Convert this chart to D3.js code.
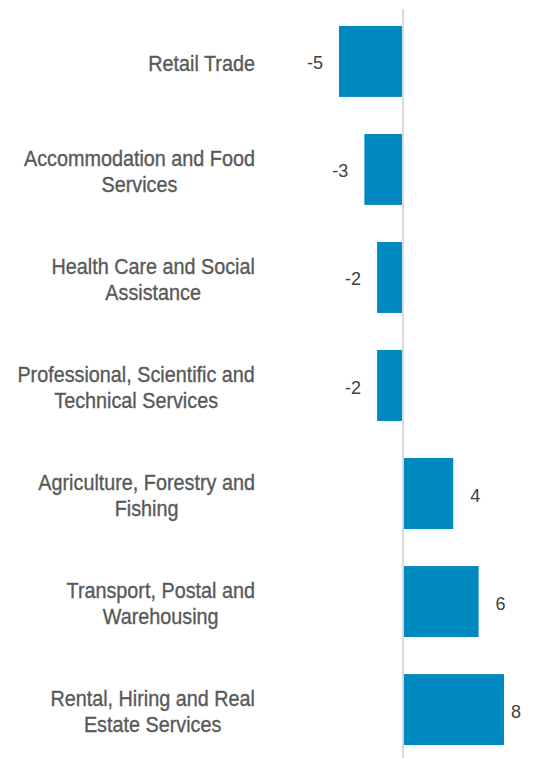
<!DOCTYPE html>
<html>
<head>
<meta charset="utf-8">
<script src="https://cdn.jsdelivr.net/npm/d3@7"></script>
<style>
  html, body { margin: 0; padding: 0; background: #fff; }
  svg { display: block; }
</style>
</head>
<body>
<svg id="chart" width="533" height="758"></svg>
<script>
// Change by industry (top to bottom)
const categories = [
  ["Retail Trade"],
  ["Accommodation and Food", "Services"],
  ["Health Care and Social", "Assistance"],
  ["Professional, Scientific and", "Technical Services"],
  ["Agriculture, Forestry and", "Fishing"],
  ["Transport, Postal and", "Warehousing"],
  ["Rental, Hiring and Real", "Estate Services"]
];
const values = [-5, -3, -2, -2, 4, 6, 8];
const valueLabels = ["-5", "-3", "-2", "-2", "4", "6", "8"];

const W = 533, H = 758;
const svg = d3.select("#chart");

const rows = categories.map((c, i) => ({ key: i, lines: c, value: values[i], label: valueLabels[i] }));

const y = d3.scaleBand()
  .domain(rows.map(d => d.key))
  .range([9, 762])
  .paddingInner(0.343)
  .paddingOuter(0.157);

const x = d3.scaleLinear().domain([-5, 8]).range([339, 504]);

// bars
svg.append("g").selectAll("rect")
  .data(rows)
  .join("rect")
  .attr("x", d => x(Math.min(0, d.value)))
  .attr("y", d => y(d.key))
  .attr("width", d => Math.abs(x(d.value) - x(0)))
  .attr("height", y.bandwidth())
  .attr("fill", "#0089C0");

// zero axis line
svg.append("line")
  .attr("x1", x(0) + 0.5).attr("x2", x(0) + 0.5)
  .attr("y1", 9).attr("y2", H)
  .attr("stroke", "#d9d9d9").attr("stroke-width", 2);

// value labels
svg.append("g").selectAll("text")
  .data(rows)
  .join("text")
  .attr("font-family", "'Liberation Sans', Arial, sans-serif")
  .attr("font-size", 18)
  .attr("fill", "#404040")
  .attr("dominant-baseline", "central")
  .attr("y", d => y(d.key) + y.bandwidth() / 2 + 2)
  .attr("text-anchor", d => d.value < 0 ? "end" : "start")
  .attr("x", d => d.value < 0 ? x(d.value) - 16 : x(d.value) + 17)
  .text(d => d.label)
  .each(function(d) {
    if (d.value > 0) {
      const w = this.getComputedTextLength();
      const px = Math.min(x(d.value) + 17, W - 12 - w);
      d3.select(this).attr("x", Math.max(px, x(d.value) + 6));
    }
  });

// category labels: block right-aligned, lines centred within the block,
// glyphs narrowed horizontally for a condensed look
const labelRight = 255;
const lineH = 26;
const squeeze = 0.9;
const catG = svg.append("g")
  .attr("font-family", "'Liberation Sans', Arial, sans-serif")
  .attr("font-size", 22)
  .attr("fill", "#595959")
  .attr("stroke", "#595959")
  .attr("stroke-width", 0.35);

rows.forEach(d => {
  const cy = y(d.key) + y.bandwidth() / 2 + 2;
  const n = d.lines.length;
  const texts = d.lines.map((ln, i) =>
    catG.append("text")
      .attr("dominant-baseline", "central")
      .attr("text-anchor", "middle")
      .text(ln));
  const maxW = d3.max(texts, t => t.node().getComputedTextLength()) * squeeze;
  const center = labelRight - maxW / 2;
  texts.forEach((t, i) =>
    t.attr("transform", `translate(${center},${cy + (i - (n - 1) / 2) * lineH}) scale(${squeeze},1)`));
});
</script>
</body>
</html>
